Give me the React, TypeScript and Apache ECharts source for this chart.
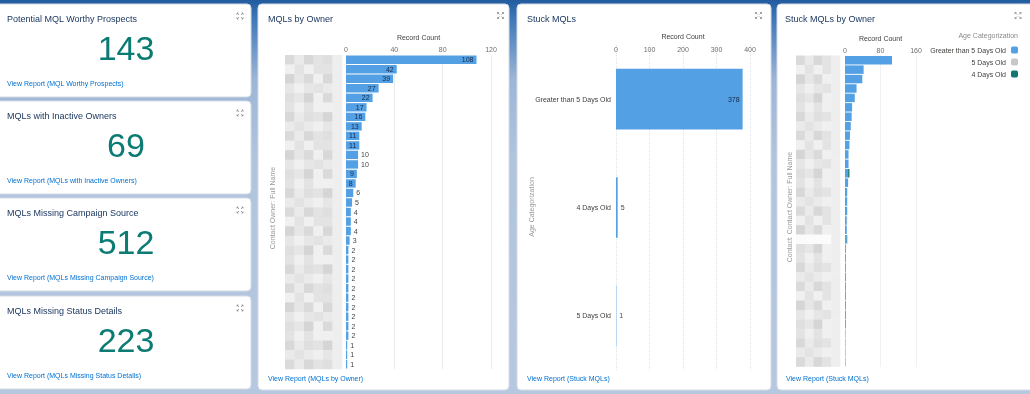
import React, { useEffect, useRef } from "react";
import * as echarts from "echarts";

// ---------- data ----------
const kpiTitles = [
  "Potential MQL Worthy Prospects",
  "MQLs with Inactive Owners",
  "MQLs Missing Campaign Source",
  "MQLs Missing Status Details",
];
const kpiValues = [143, 69, 512, 223];
const kpiLinks = [
  "View Report (MQL Worthy Prospects)",
  "View Report (MQLs with Inactive Owners)",
  "View Report (MQLs Missing Campaign Source)",
  "View Report (MQLs Missing Status Details)",
];

const ownerNames = [
  "Owner 01", "Owner 02", "Owner 03", "Owner 04", "Owner 05", "Owner 06", "Owner 07",
  "Owner 08", "Owner 09", "Owner 10", "Owner 11", "Owner 12", "Owner 13", "Owner 14",
  "Owner 15", "Owner 16", "Owner 17", "Owner 18", "Owner 19", "Owner 20", "Owner 21",
  "Owner 22", "Owner 23", "Owner 24", "Owner 25", "Owner 26", "Owner 27", "Owner 28",
  "Owner 29", "Owner 30", "Owner 31", "Owner 32", "Owner 33",
];
const ownerCounts = [
  108, 42, 39, 27, 22, 17, 16, 13, 11, 11, 10, 10, 9, 8, 6, 5, 4, 4, 4, 3,
  2, 2, 2, 2, 2, 2, 2, 2, 2, 2, 1, 1, 1,
];
const ownerTicks = [0, 40, 80, 120];

const ageCategories = ["Greater than 5 Days Old", "4 Days Old", "5 Days Old"];
const ageCounts = [378, 5, 1];
const ageTicks = [0, 100, 200, 300, 400];

const stuckSeriesNames = ["Greater than 5 Days Old", "5 Days Old", "4 Days Old"];
const stuckGt5 = [
  106, 42, 39, 26, 22, 16, 15, 13, 10, 10, 8, 8, 7, 7, 5, 5, 5, 4, 4, 4,
  2, 2, 2, 2, 2, 2, 2, 2, 2, 1, 1, 1, 1,
];
const stuck5 = [
  0, 0, 0, 0, 0, 0, 0, 0, 0, 0, 0, 0, 0, 0, 0, 0, 0, 1, 0, 0,
  0, 0, 0, 0, 0, 0, 0, 0, 0, 0, 0, 0, 0,
];
const stuck4 = [
  0, 0, 0, 0, 0, 0, 0, 0, 1, 0, 0, 0, 3, 0, 0, 0, 0, 0, 0, 1,
  0, 0, 0, 0, 0, 0, 0, 0, 0, 0, 0, 0, 0,
];
const stuckTicks = [0, 80, 160];

// ---------- style / layout ----------
const FONT = "'Liberation Sans', Arial, Helvetica, sans-serif";
const BLUE = "#54a0e4";
const GREY = "#c8c8c8";
const TEAL = "#10786f";
const TITLE = "#16325c";
const LINK = "#0070d2";
const KPI = "#0b7b74";

const kpiTops = [4, 101, 198, 296];
const kpiH = 93;

const gA = { left: 346, top: 55, width: 145, height: 314 };
const gB = { left: 616, top: 45, width: 134, height: 325 };
const gC = { left: 845, top: 55.5, width: 71, height: 311 };

const mosaicShades = ["#dadada", "#e3e3e3", "#d5d5d5", "#eaeaea", "#dfdfdf", "#f0f0f0", "#d8d8d8", "#e6e6e6"];

function mosaic(x0: number, colW: number, cols: number, top: number, rowH: number, rows: number, blankRow: number) {
  const out: any[] = [];
  for (let r = 0; r < rows; r++) {
    for (let c = 0; c < cols; c++) {
      const shade = r === blankRow ? "#fbfbfb" : mosaicShades[(r * 5 + c * 3 + ((r * c) % 4)) % mosaicShades.length];
      out.push({
        type: "rect",
        z: 5,
        silent: true,
        shape: { x: x0 + c * colW, y: top + r * rowH, width: colW + 0.3, height: rowH + 0.3 },
        style: { fill: c === cols - 1 ? "#eeeeee" : shade },
      });
    }
  }
  return out;
}

function expandIcon(cx: number, cy: number) {
  const s = { stroke: "#8a8a8a", lineWidth: 0.8, fill: null };
  const d = 3;
  const corner = (sx: number, sy: number) => [
    { type: "line", shape: { x1: sx * 1, y1: sy * 1, x2: sx * d, y2: sy * d }, style: s },
    { type: "polyline", shape: { points: [[sx * d, sy * 1.5], [sx * d, sy * d], [sx * 1.5, sy * d]] }, style: s },
  ];
  return {
    type: "group",
    x: cx,
    y: cy,
    z: 10,
    silent: true,
    children: [...corner(-1, -1), ...corner(1, -1), ...corner(-1, 1), ...corner(1, 1)],
  };
}

function text(x: number, y: number, t: string, size: number, fill: string, align = "left", extra: any = {}) {
  return {
    type: "text",
    x,
    y,
    z: 10,
    silent: true,
    ...extra,
    style: { text: t, fill, fontSize: size, fontFamily: FONT, align, verticalAlign: "middle" },
  };
}

function card(x: number, y: number, w: number, h: number) {
  return {
    type: "rect",
    z: -5,
    silent: true,
    shape: { x, y, width: w, height: h, r: 4 },
    style: { fill: "#ffffff", stroke: "#d4dbe4", lineWidth: 1 },
  };
}

function labelled(values: number[], max: number, width: number) {
  return values.map((v) => {
    const px = (v / max) * width;
    const lw = String(v).length * 3.9;
    const inside = px - lw >= 5;
    return {
      value: v,
      label: {
        position: inside ? "insideRight" : "right",
        color: inside ? "#15294a" : "#444444",
        distance: 3,
      },
    };
  });
}

export default function App() {
  const ref = useRef<HTMLDivElement>(null);

  useEffect(() => {
    if (!ref.current) return;
    const chart = echarts.init(ref.current, undefined, { renderer: "svg" });

    const graphics: any[] = [];
    // background
    graphics.push({
      type: "rect",
      z: -10,
      silent: true,
      shape: { x: 0, y: 0, width: 1030, height: 394 },
      style: {
        fill: new echarts.graphic.LinearGradient(0, 0, 0, 1, [
          { offset: 0, color: "#225c9e" },
          { offset: 0.04, color: "#3a74b6" },
          { offset: 0.2, color: "#9cb5d7" },
          { offset: 0.4, color: "#b1c4de" },
          { offset: 1, color: "#b6c8e0" },
        ]),
      },
    });
    // KPI cards
    kpiTops.forEach((top, i) => {
      graphics.push(card(-4, top, 255, kpiH));
      graphics.push(text(7, top + 14.5, kpiTitles[i], 9, TITLE));
      graphics.push(text(126, top + 44, String(kpiValues[i]), 34, KPI, "center"));
      graphics.push(text(7, top + 79.5, kpiLinks[i], 7, LINK));
      graphics.push(expandIcon(240, top + 12));
    });
    // big cards
    graphics.push(card(258, 4, 251, 386));
    graphics.push(card(517, 4, 254, 386));
    graphics.push(card(777, 4, 260, 386));

    graphics.push(text(268, 18.5, "MQLs by Owner", 9, TITLE));
    graphics.push(text(268, 378, "View Report (MQLs by Owner)", 7, LINK));
    graphics.push(expandIcon(500.5, 15.5));

    graphics.push(text(527, 18.5, "Stuck MQLs", 9, TITLE));
    graphics.push(text(527, 378, "View Report (Stuck MQLs)", 7, LINK));
    graphics.push(expandIcon(758.5, 15.5));

    graphics.push(text(785, 18.5, "Stuck MQLs by Owner", 9, TITLE));
    graphics.push(text(786, 378, "View Report (Stuck MQLs)", 7, LINK));
    graphics.push(expandIcon(1018, 15.5));

    // axis names (vertical)
    graphics.push(text(272, 208, "Contact Owner: Full Name", 7, "#9a9a9a", "center", { rotation: Math.PI / 2 }));
    graphics.push(text(531, 207, "Age Categorization", 7, "#9a9a9a", "center", { rotation: Math.PI / 2 }));
    graphics.push(text(789, 207, "Contact: Contact Owner: Full Name", 7, "#9a9a9a", "center", { rotation: Math.PI / 2 }));

    // legend title
    graphics.push(text(1018, 35.5, "Age Categorization", 7, "#8a8a8a", "right"));

    // redacted-name mosaics
    graphics.push(...mosaic(285, 9.5, 6, gA.top, gA.height / ownerNames.length, ownerNames.length, -1));
    graphics.push(...mosaic(796, 8.8, 5, gC.top, gC.height / ownerNames.length, ownerNames.length, 19));

    const valueAxis = (grid: number, ticks: number[], margin: number, nameGap: number, dashed: boolean) => ({
      type: "value",
      gridIndex: grid,
      position: "top",
      min: ticks[0],
      max: ticks[ticks.length - 1],
      interval: ticks[1] - ticks[0],
      name: "Record Count",
      nameLocation: "middle",
      nameGap,
      nameTextStyle: { fontSize: 7, color: "#3e3e3c", fontFamily: FONT },
      axisLabel: { fontSize: 7, color: "#706e6b", margin, fontFamily: FONT },
      axisLine: { show: false },
      axisTick: { show: false },
      splitLine: { lineStyle: { color: dashed ? "#dfe3e9" : "#e8ebf0", type: dashed ? "dotted" : "solid", width: 1 } },
    });

    const option: any = {
      animation: false,
      textStyle: { fontFamily: FONT },
      grid: [
        { ...gA, containLabel: false },
        { ...gB, containLabel: false },
        { ...gC, containLabel: false },
      ],
      xAxis: [
        valueAxis(0, ownerTicks, 2, 14, false),
        valueAxis(1, ageTicks, -8, 4.5, true),
        valueAxis(2, stuckTicks, 2, 14, true),
      ],
      yAxis: [
        {
          type: "category",
          gridIndex: 0,
          data: ownerNames,
          inverse: true,
          axisLabel: { show: false },
          axisLine: { show: false },
          axisTick: { show: false },
        },
        {
          type: "category",
          gridIndex: 1,
          data: ageCategories,
          inverse: true,
          axisLabel: { fontSize: 7, color: "#3e3e3c", margin: 5, fontFamily: FONT },
          axisLine: { show: false },
          axisTick: { show: false },
        },
        {
          type: "category",
          gridIndex: 2,
          data: ownerNames,
          inverse: true,
          axisLabel: { show: false },
          axisLine: { show: false },
          axisTick: { show: false },
        },
      ],
      legend: {
        data: stuckSeriesNames,
        orient: "vertical",
        right: 12,
        top: 46.5,
        align: "right",
        itemWidth: 7,
        itemHeight: 7,
        itemGap: 5,
        padding: 0,
        icon: "roundRect",
        selectedMode: false,
        textStyle: { fontSize: 7, color: "#3e3e3c", fontFamily: FONT },
      },
      graphic: { elements: graphics },
      series: [
        {
          type: "bar",
          name: "MQLs by Owner",
          xAxisIndex: 0,
          yAxisIndex: 0,
          data: labelled(ownerCounts, ownerTicks[ownerTicks.length - 1], gA.width),
          barCategoryGap: "12%",
          itemStyle: { color: BLUE },
          label: { show: true, fontSize: 7, fontFamily: FONT },
        },
        {
          type: "bar",
          name: "Stuck MQLs",
          xAxisIndex: 1,
          yAxisIndex: 1,
          data: labelled(ageCounts, ageTicks[ageTicks.length - 1], gB.width),
          barCategoryGap: "44%",
          itemStyle: { color: BLUE },
          label: { show: true, fontSize: 7, fontFamily: FONT },
        },
        {
          type: "bar",
          name: stuckSeriesNames[0],
          xAxisIndex: 2,
          yAxisIndex: 2,
          stack: "age",
          data: stuckGt5,
          barCategoryGap: "10%",
          itemStyle: { color: BLUE },
        },
        {
          type: "bar",
          name: stuckSeriesNames[1],
          xAxisIndex: 2,
          yAxisIndex: 2,
          stack: "age",
          data: stuck5,
          barCategoryGap: "10%",
          itemStyle: { color: GREY },
        },
        {
          type: "bar",
          name: stuckSeriesNames[2],
          xAxisIndex: 2,
          yAxisIndex: 2,
          stack: "age",
          data: stuck4,
          barCategoryGap: "10%",
          itemStyle: { color: TEAL },
        },
      ],
    };

    chart.setOption(option);
    return () => chart.dispose();
  }, []);

  return (
    <div
      ref={ref}
      style={{ position: "fixed", left: 0, top: 0, width: 1030, height: 394 }}
    />
  );
}
